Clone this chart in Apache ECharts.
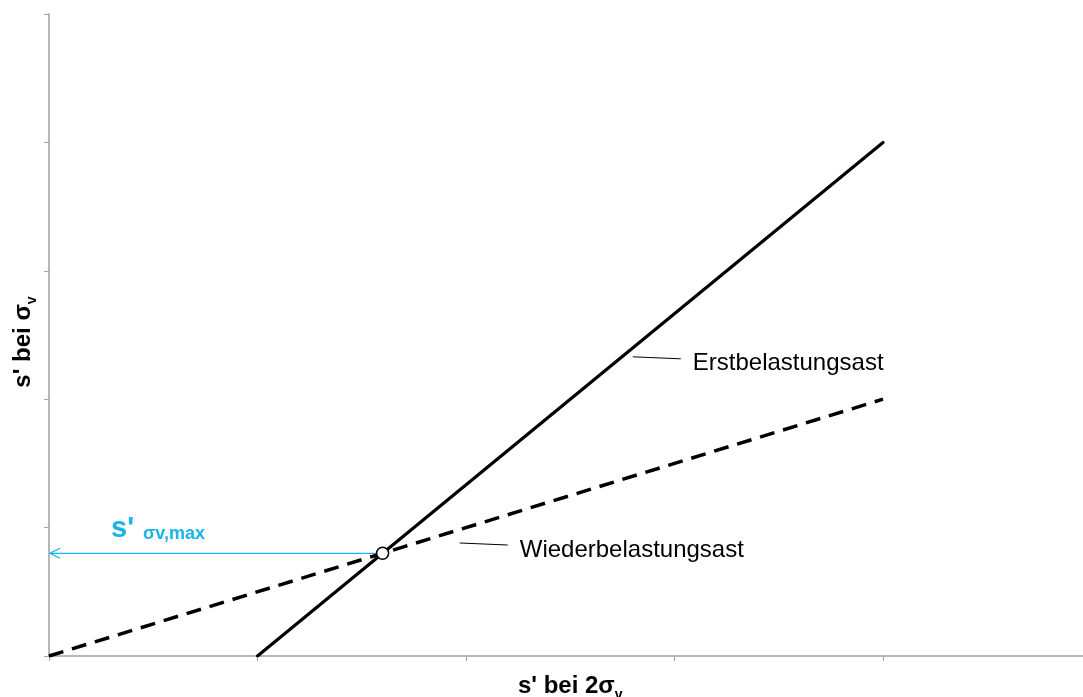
<!DOCTYPE html>
<html>
<head>
<meta charset="utf-8">
<script src="https://cdn.jsdelivr.net/npm/echarts@6/dist/echarts.min.js"></script>
<style>html,body{margin:0;padding:0;background:#fff;}#c{width:1083px;height:697px;}</style>
</head>
<body>
<div id="c"></div>
<script>
// Data (axis units, no tick labels shown)
const xTicks = [0, 1, 2, 3, 4, 5];
const yTicks = [0, 1, 2, 3, 4, 5];
const erstX = [1, 4];          // Erstbelastungsast (solid)
const erstY = [0, 4];
const wiederX = [0, 4];        // Wiederbelastungsast (dashed)
const wiederY = [0, 2];
const pointX = [1.6];          // intersection s'σv,max
const pointY = [0.8];
const lineNames = ['Erstbelastungsast', 'Wiederbelastungsast'];
const labelAnchorX = [2.80, 1.97];
const labelAnchorY = [2.33, 0.88];

const FONT = 'Liberation Sans, Arial, sans-serif';
const BLUE = '#19b4ec';

const chart = echarts.init(document.getElementById('c'), null, {renderer: 'canvas'});

const nameRich = {
  m: {fontSize: 24, fontWeight: 'bold', color: '#000', fontFamily: FONT, lineHeight: 25, verticalAlign: 'top'},
  s: {fontSize: 14, fontWeight: 'bold', color: '#000', fontFamily: FONT, lineHeight: 28, verticalAlign: 'bottom'}
};

const option = {
  animation: false,
  backgroundColor: '#fff',
  grid: {left: 49, top: 14, width: 1042.5, height: 642, containLabel: false, outerBoundsMode: 'none'},
  xAxis: {
    type: 'value', min: xTicks[0], max: xTicks[xTicks.length - 1], interval: 1,
    axisLine: {show: true, lineStyle: {color: '#a0a0a0', width: 1.5}},
    axisTick: {show: true, inside: false, length: 5, lineStyle: {color: '#a0a0a0', width: 1}},
    axisLabel: {show: false},
    splitLine: {show: false},
    name: '{m|s\' bei 2σ}{s|v}',
    nameLocation: 'middle',
    nameGap: 18,
    nameTextStyle: {fontFamily: FONT, rich: nameRich, padding: [0, 0, 0, 0]}
  },
  yAxis: {
    type: 'value', min: yTicks[0], max: yTicks[yTicks.length - 1], interval: 1,
    axisLine: {show: true, lineStyle: {color: '#a0a0a0', width: 1.5}},
    axisTick: {show: true, inside: false, length: 5, lineStyle: {color: '#a0a0a0', width: 1}},
    axisLabel: {show: false},
    splitLine: {show: false},
    name: '{m|s\' bei σ}{s|v}',
    nameLocation: 'middle',
    nameRotate: 90,
    nameGap: 10,
    nameTextStyle: {fontFamily: FONT, rich: nameRich, padding: [0, 14, 0, 0]}
  },
  series: [
    {
      name: lineNames[0], type: 'line',
      data: erstX.map((x, i) => [x, erstY[i]]),
      showSymbol: false, symbol: 'none',
      lineStyle: {color: '#000', width: 3.2, type: 'solid', cap: 'round'},
      z: 3
    },
    {
      name: lineNames[1], type: 'line',
      data: wiederX.map((x, i) => [x, wiederY[i]]),
      showSymbol: false, symbol: 'none',
      lineStyle: {color: '#000', width: 3.5, type: [15, 9]},
      z: 3
    },
    {
      // blue arrow from intersection to y axis + label
      type: 'custom',
      data: pointX.map((x, i) => [x, pointY[i]]),
      z: 2,
      renderItem: function (params, api) {
        const p = api.coord([api.value(0), api.value(1)]);
        const p0 = api.coord([0, api.value(1)]);
        return {
          type: 'group',
          children: [
            {type: 'line', shape: {x1: p[0], y1: p[1], x2: p0[0] + 1, y2: p0[1]},
             style: {stroke: BLUE, lineWidth: 1.3}},
            {type: 'polyline', shape: {points: [[p0[0] + 11, p0[1] - 5], [p0[0] + 1, p0[1]], [p0[0] + 11, p0[1] + 5]]},
             style: {stroke: BLUE, lineWidth: 1.3, fill: null}},
            {type: 'text', style: {x: p0[0] + 62, y: p[1] - 10, text: "s'", fill: BLUE,
              font: 'bold 29px ' + FONT, textAlign: 'left', textVerticalAlign: 'bottom'}},
            {type: 'text', style: {x: p0[0] + 94, y: p[1] - 10, text: 'σv,max', fill: BLUE,
              font: 'bold 18px ' + FONT, textAlign: 'left', textVerticalAlign: 'bottom'}}
          ]
        };
      }
    },
    {
      // intersection marker
      type: 'scatter',
      data: pointX.map((x, i) => [x, pointY[i]]),
      symbol: 'circle', symbolSize: 12,
      itemStyle: {color: '#ffffff', borderColor: '#000000', borderWidth: 1.5, opacity: 1},
      emphasis: {disabled: true},
      z: 5
    },
    {
      // line annotations with leader lines
      type: 'custom',
      data: labelAnchorX.map((x, i) => [x, labelAnchorY[i], i]),
      z: 4,
      renderItem: function (params, api) {
        const p = api.coord([api.value(0), api.value(1)]);
        const idx = api.value(2);
        return {
          type: 'group',
          children: [
            {type: 'line', shape: {x1: p[0], y1: p[1], x2: p[0] + 48, y2: p[1] + 2},
             style: {stroke: '#000', lineWidth: 1}},
            {type: 'text', style: {x: p[0] + 60, y: p[1] + 7, text: lineNames[idx], fill: '#000',
              font: '24px ' + FONT, textAlign: 'left', textVerticalAlign: 'middle'}}
          ]
        };
      }
    }
  ]
};
chart.setOption(option);
</script>
</body>
</html>
